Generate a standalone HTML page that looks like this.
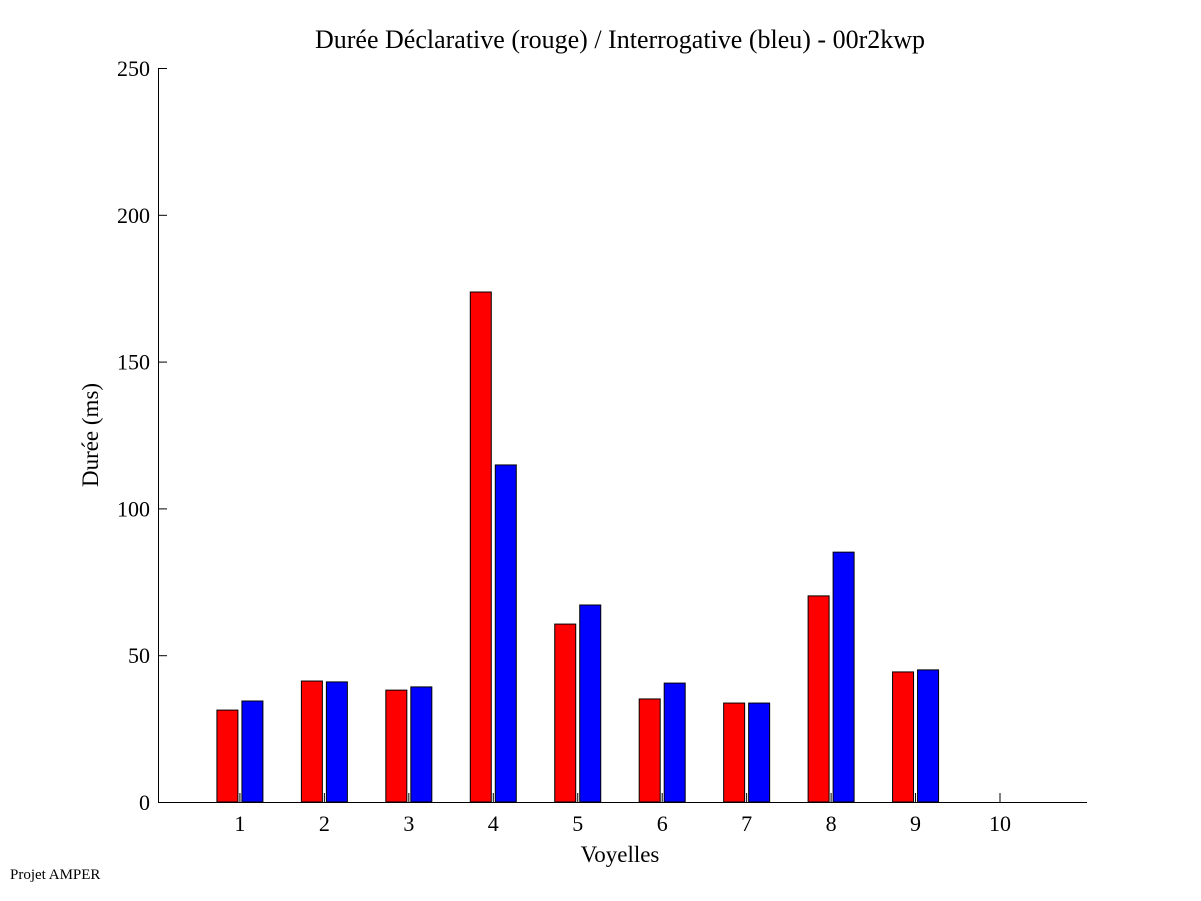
<!DOCTYPE html>
<html><head><meta charset="utf-8"><style>
body{margin:0;background:#fff;}
svg{display:block;font-family:"Liberation Serif",serif;}
</style></head><body>
<svg id="chart" width="1201" height="901">
<rect width="1201" height="901" fill="#fff"/>
<text x="620" y="48" font-size="26" text-anchor="middle">Durée Déclarative (rouge) / Interrogative (bleu) - 00r2kwp</text>
<text x="620" y="862" font-size="23" text-anchor="middle">Voyelles</text>
<text transform="translate(98,435) rotate(-90)" font-size="23" text-anchor="middle">Durée (ms)</text>
<text x="10" y="879" font-size="15">Projet AMPER</text>
<g id="bars"></g>
<g id="axes"></g>
</svg>
<script>
const categories=[1,2,3,4,5,6,7,8,9,10];
const redValues=[31.3,41.2,38.1,173.7,60.6,35.1,33.7,70.2,44.3,null];
const blueValues=[34.4,40.9,39.2,114.8,67.1,40.5,33.7,85.1,45.0,null];
const yTicks=[0,50,100,150,200,250];
const NS="http://www.w3.org/2000/svg";
const x0=158,x1=1087,y0=802,y1=68;
const xs=v=>x0+(v-0.03)*(x1-x0)/11;
const ys=v=>y0-v*(y0-y1)/250;
const bars=document.getElementById('bars'),axes=document.getElementById('axes');
function mk(t,a,p){const e=document.createElementNS(NS,t);for(const k in a)e.setAttribute(k,a[k]);p.appendChild(e);return e;}
categories.forEach((c,i)=>{
 const cx=xs(c);
 if(redValues[i]!=null){
  const r=mk('rect',{x:cx-23,y:ys(redValues[i]),width:21,height:y0-ys(redValues[i]),fill:'#f00',stroke:'#000','stroke-width':1},bars);
  
  
 }
 if(blueValues[i]!=null){
  const b=mk('rect',{x:cx+2,y:ys(blueValues[i]),width:21,height:y0-ys(blueValues[i]),fill:'#00f',stroke:'#000','stroke-width':1},bars);
  
  
 }
 mk('line',{x1:cx,x2:cx,y1:y0,y2:y0-9,stroke:'#000'},axes);
 const t=mk('text',{x:cx,y:y0+29,'font-size':22,'text-anchor':'middle'},axes);
 t.textContent=c;
 
 
});
const xa=mk('line',{x1:x0,x2:x1,y1:y0+0.5,y2:y0+0.5,stroke:'#000'},axes);


const ya=mk('line',{x1:x0+0.5,x2:x0+0.5,y1:y1,y2:y0,stroke:'#000'},axes);


yTicks.forEach(v=>{
 const y=ys(v);
 mk('line',{x1:x0,x2:x0+9,y1:y+0.5,y2:y+0.5,stroke:'#000'},axes);
 const t=mk('text',{x:x0-8,y:y+8,'font-size':22,'text-anchor':'end'},axes);
 t.textContent=v;
 
 
});
</script>
</body></html>
